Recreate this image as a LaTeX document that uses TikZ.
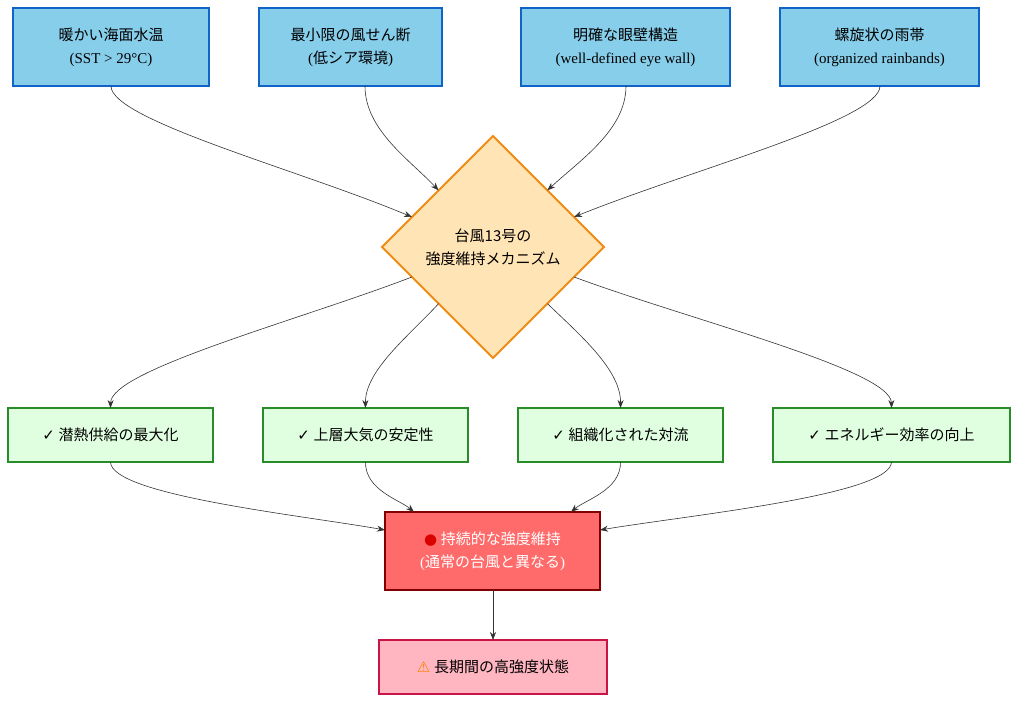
\documentclass[tikz,border=0pt]{standalone}
\usepackage{fontspec}
\setmainfont{Liberation Serif}
\newfontfamily\cjk{Noto Sans CJK JP}
\newfontfamily\sym{DejaVu Sans}
\usetikzlibrary{calc,arrows.meta}
\begin{document}
\begin{tikzpicture}[x=1pt,y=-1pt,
  every node/.style={font=\fontsize{15}{23}\selectfont,align=center,inner sep=0},
  top/.style={line width=1.3pt,fill={rgb,255:red,135;green,206;blue,235},draw={rgb,255:red,16;green,100;blue,200}},
  mid/.style={line width=1.3pt,draw={rgb,255:red,40;green,140;blue,40},fill={rgb,255:red,224;green,255;blue,224}},
  e/.style={draw=black!80,line width=0.6pt,-{Stealth[length=8pt,width=6pt]}}]
\useasboundingbox (0,0) rectangle (1018,702);
\path[top] (13,8) rectangle (209,86) node[midway] (t1) {{\cjk 暖かい海面水温}\\(SST > 29°C)};
\path[top] (259,8) rectangle (442,86) node[midway] (t2) {{\cjk 最小限の風せん断}\\({\cjk 低シア環境})};
\path[top] (521,8) rectangle (730,86) node[midway] (t3) {{\cjk 明確な眼壁構造}\\(well-defined eye wall)};
\path[top] (780,8) rectangle (979,86) node[midway] (t4) {{\cjk 螺旋状の雨帯}\\(organized rainbands)};
\coordinate (t1s) at (111,86); \coordinate (t2s) at (365,86);
\coordinate (t3s) at (626,86); \coordinate (t4s) at (880,86);
\path[draw={rgb,255:red,240;green,140;blue,20},fill={rgb,255:red,255;green,228;blue,181},line width=2pt]
  (382,247) coordinate (dw) -- (493,136) coordinate (dn) -- (604,247) coordinate (de) -- (493,358) coordinate (ds) -- cycle;
\node (d) at (493,247) {\cjk 台風13号の\\\cjk 強度維持メカニズム};
\foreach \a/\b/\c/\dd in {8/408/213/462, 263/408/468/462, 518/408/723/462, 773/408/1010/462}{
  \path[mid] (\a,\b) rectangle (\c,\dd);}
\node (m1) at (110.5,435) {{\sym ✓} {\cjk 潜熱供給の最大化}};
\node (m2) at (365.5,435) {{\sym ✓} {\cjk 上層大気の安定性}};
\node (m3) at (620.5,435) {{\sym ✓} {\cjk 組織化された対流}};
\node (m4) at (891.5,435) {{\sym ✓} {\cjk エネルギー効率の向上}};
\path[draw={rgb,255:red,130;green,0;blue,0},fill={rgb,255:red,255;green,107;blue,107},line width=2.2pt] (385,512) rectangle (600,590);
\node[text=white] (r) at (492.5,551) {{\sym\color{red!85!black}●} {\cjk 持続的な強度維持}\\({\cjk 通常の台風と異なる})};
\path[draw={rgb,255:red,200;green,20;blue,70},fill={rgb,255:red,255;green,182;blue,193},line width=1.3pt] (379,640) rectangle (607,694);
\node (b) at (493,667) {{\sym\color{orange}⚠} {\cjk 長期間の高強度状態}};
% edges
\draw[e] (t1s) .. controls (111,120) and (300,170) .. ($(dw)!.27!(dn)$);
\draw[e] (t2s) .. controls (365,130) and (410,160) .. ($(dw)!.51!(dn)$);
\draw[e] (t3s) .. controls (626,130) and (580,160) .. ($(de)!.51!(dn)$);
\draw[e] (t4s) .. controls (880,120) and (690,170) .. ($(de)!.27!(dn)$);
\draw[e] ($(dw)!.27!(ds)$) .. controls (300,320) and (111,370) .. (m1.north |- 0,408);
\draw[e] ($(dw)!.51!(ds)$) .. controls (410,335) and (365,370) .. (m2.north |- 0,408);
\draw[e] ($(de)!.51!(ds)$) .. controls (580,335) and (621,370) .. (m3.north |- 0,408);
\draw[e] ($(de)!.27!(ds)$) .. controls (690,320) and (891,370) .. (m4.north |- 0,408);
\draw[e] (m1.south |- 0,462) .. controls (111,495) and (300,515) .. (385,530);
\draw[e] (m2.south |- 0,462) .. controls (365,490) and (400,500) .. (414,512);
\draw[e] (m3.south |- 0,462) .. controls (621,490) and (585,500) .. (571,512);
\draw[e] (m4.south |- 0,462) .. controls (891,495) and (690,515) .. (600,530);
\draw[e] (493,590) -- (b.north |- 0,640);
\end{tikzpicture}
\end{document}
